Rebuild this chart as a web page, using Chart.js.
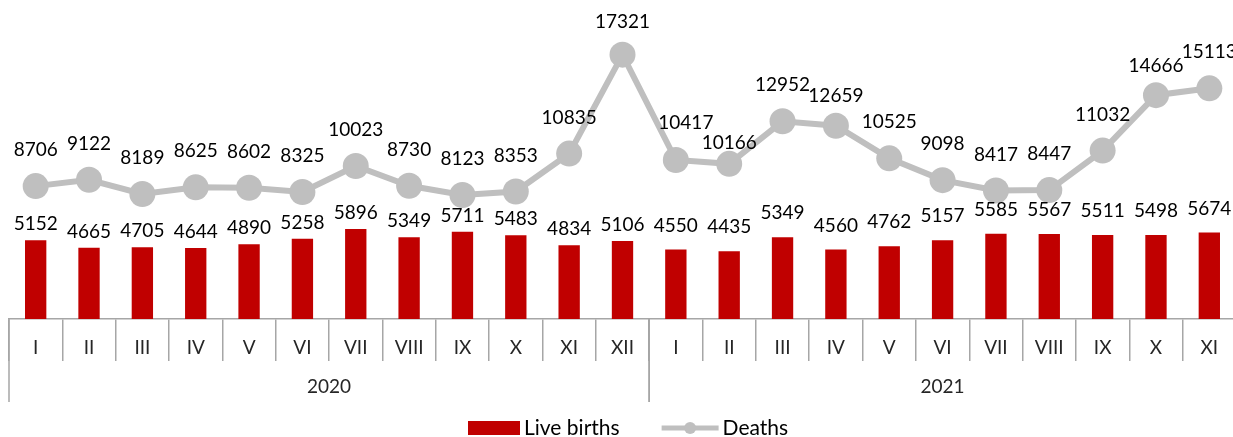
<!DOCTYPE html>
<html>
<head>
<meta charset="utf-8">
<script src="https://cdn.jsdelivr.net/npm/chart.js@4/dist/chart.umd.min.js"></script>
<style>
  html, body { margin: 0; padding: 0; background: #fff; overflow: hidden; }
  .wrap { position: relative; width: 1236px; height: 437px; }
</style>
</head>
<body>
<div class="wrap"><canvas id="chart"></canvas></div>
<script>
const months = ['I', 'II', 'III', 'IV', 'V', 'VI', 'VII', 'VIII', 'IX', 'X', 'XI', 'XII',
                'I', 'II', 'III', 'IV', 'V', 'VI', 'VII', 'VIII', 'IX', 'X', 'XI'];
const years = ['2020', '2021'];
const monthsPerYear = [12, 11];
const liveBirths = [5152, 4665, 4705, 4644, 4890, 5258, 5896, 5349, 5711, 5483, 4834, 5106,
                    4550, 4435, 5349, 4560, 4762, 5157, 5585, 5567, 5511, 5498, 5674];
const deaths = [8706, 9122, 8189, 8625, 8602, 8325, 10023, 8730, 8123, 8353, 10835, 17321,
                10417, 10166, 12952, 12659, 10525, 9098, 8417, 8447, 11032, 14666, 15113];

const RED = '#C00000';
const GREY = '#BFBFBF';
const AXIS = '#A6A6A6';
const FONT = 'Lato, "Open Sans", sans-serif';

// label distance above the mark (px); a few labels were nudged by hand in the original
const barLabelGap = [16, 24];          // per year
const lineLabelGap = 36;
const lineLabelNudge = { 11: [0, 33], 12: [10, 37], 13: [0, 21], 15: [0, 30], 21: [0, 29] };

// value labels above bars and points
const valueLabels = {
    id: 'valueLabels',
    afterDatasetsDraw(chart) {
        const ctx = chart.ctx;
        ctx.save();
        ctx.font = '19px ' + FONT;
        ctx.fillStyle = '#000';
        ctx.textAlign = 'center';
        ctx.textBaseline = 'middle';
        chart.data.datasets.forEach((ds, i) => {
            const meta = chart.getDatasetMeta(i);
            meta.data.forEach((el, j) => {
                let dx = 0, off;
                if (ds.type === 'line') {
                    const n = lineLabelNudge[j];
                    dx = n ? n[0] : 0;
                    off = n ? n[1] : lineLabelGap;
                } else {
                    off = barLabelGap[j < monthsPerYear[0] ? 0 : 1];
                }
                ctx.fillText(ds.data[j], el.x + dx, el.y - off);
            });
        });
        ctx.restore();
    }
};

// year row + long separators under the month axis, and the legend
const yearAxis = {
    id: 'yearAxis',
    afterDraw(chart) {
        const ctx = chart.ctx;
        const x = chart.scales.x;
        const half = (x.getPixelForValue(1) - x.getPixelForValue(0)) / 2;
        const top = x.top;
        ctx.save();
        ctx.strokeStyle = AXIS;
        ctx.lineWidth = 1.5;
        ctx.font = '19px ' + FONT;
        ctx.fillStyle = '#262626';
        ctx.textAlign = 'center';
        ctx.textBaseline = 'middle';
        let start = 0;
        years.forEach((y, k) => {
            const end = start + monthsPerYear[k] - 1;
            const x0 = x.getPixelForValue(start) - half;
            const x1 = x.getPixelForValue(end) + half;
            [x0, x1].forEach(px => {
                ctx.beginPath();
                ctx.moveTo(px, top);
                ctx.lineTo(px, top + 83);
                ctx.stroke();
            });
            ctx.fillText(y, (x0 + x1) / 2, top + 68);
            start = end + 1;
        });

        // legend
        const ly = 428;
        let lx = 468;
        ctx.textAlign = 'left';
        ctx.font = '21px ' + FONT;
        ctx.fillStyle = RED;
        ctx.fillRect(lx, ly - 7, 52, 14);
        lx += 56;
        ctx.fillStyle = '#000';
        ctx.fillText(chart.data.datasets[0].label, lx, ly);
        lx += ctx.measureText(chart.data.datasets[0].label).width + 42;
        ctx.strokeStyle = GREY;
        ctx.lineWidth = 5;
        ctx.beginPath();
        ctx.moveTo(lx, ly);
        ctx.lineTo(lx + 57, ly);
        ctx.stroke();
        ctx.fillStyle = GREY;
        ctx.beginPath();
        ctx.arc(lx + 28.5, ly, 6, 0, Math.PI * 2);
        ctx.fill();
        lx += 61;
        ctx.fillStyle = '#000';
        ctx.fillText(chart.data.datasets[1].label, lx, ly);
        ctx.restore();
    }
};

new Chart(document.getElementById('chart'), {
    type: 'bar',
    data: {
        labels: months,
        datasets: [{
            type: 'bar',
            label: 'Live births',
            data: liveBirths,
            backgroundColor: RED,
            categoryPercentage: 1,
            barPercentage: 0.4,
            order: 2
        }, {
            type: 'line',
            label: 'Deaths',
            data: deaths,
            borderColor: GREY,
            borderWidth: 6,
            pointRadius: 13,
            pointHoverRadius: 13,
            pointBackgroundColor: GREY,
            pointBorderWidth: 0,
            tension: 0,
            clip: false,
            order: 1
        }]
    },
    options: {
        responsive: true,
        maintainAspectRatio: false,
        animation: false,
        layout: { autoPadding: false, padding: { left: 9, right: 0, top: 0, bottom: 0 } },
        plugins: {
            legend: { display: false },
            tooltip: { enabled: false }
        },
        scales: {
            x: {
                offset: true,
                grid: {
                    offset: true,
                    drawOnChartArea: false,
                    tickLength: 42,
                    color: AXIS,
                    lineWidth: 1.5
                },
                border: { color: AXIS, width: 1.5 },
                ticks: {
                    font: { family: FONT, size: 19 },
                    color: '#262626',
                    padding: -25,
                    maxRotation: 0,
                    autoSkip: false
                },
                afterFit(scale) { scale.height = 118; }
            },
            y: {
                display: false,
                min: 0,
                max: 20900
            }
        }
    },
    plugins: [valueLabels, yearAxis]
});
</script>
</body>
</html>
